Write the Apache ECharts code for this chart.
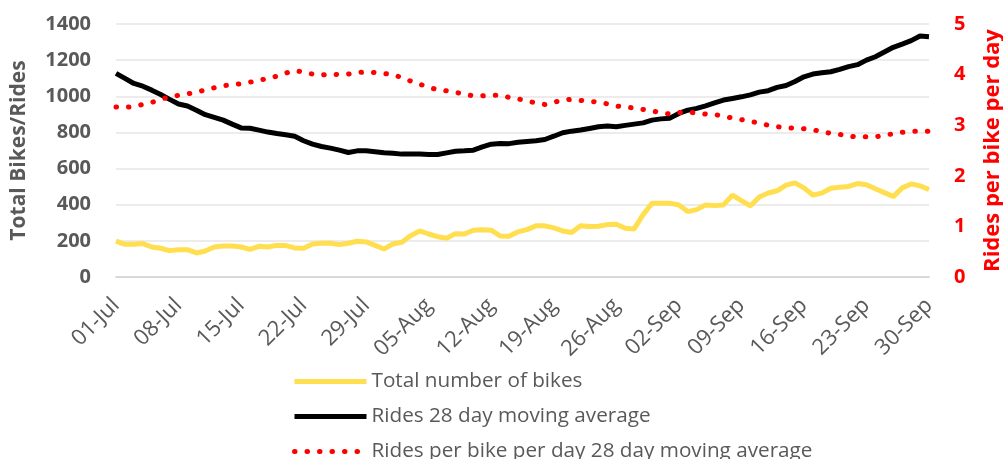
<!DOCTYPE html>
<html>
<head>
    <meta charset="utf-8"/>
    <title>Bikes and rides</title>
    <script src="https://cdn.jsdelivr.net/npm/echarts@6/dist/echarts.min.js"></script>
    <style>
        html, body { margin: 0; padding: 0; background: #fff; }
        #chart { width: 1003px; height: 459px; }
    </style>
</head>
<body>
<div id="chart"></div>
<script>
    // days 01-Jul .. 30-Sep
    var months = [['Jul', 31], ['Aug', 31], ['Sep', 30]];
    var dates = [];
    months.forEach(function (m) {
        for (var i = 1; i <= m[1]; i++) {
            dates.push((i < 10 ? '0' + i : '' + i) + '-' + m[0]);
        }
    });

    // total number of bikes
    var bikes = [199, 181, 181, 185, 166, 159, 146, 151, 151, 133,
        144, 166, 172, 172, 166, 153, 170, 166, 175, 174,
        161, 159, 183, 187, 187, 179, 187, 198, 194, 175,
        155, 183, 192, 229, 255, 238, 223, 214, 240, 238,
        259, 262, 259, 227, 225, 250, 262, 283, 283, 272,
        255, 246, 283, 279, 281, 290, 292, 270, 266, 345,
        408, 408, 408, 399, 362, 373, 399, 395, 399, 453,
        423, 393, 443, 465, 477, 508, 521, 493, 454, 464,
        491, 497, 501, 517, 510, 488, 467, 445, 493, 515,
        504, 484];

    // rides, 28 day moving average
    var rides = [1127, 1099, 1071, 1056, 1034, 1010, 983, 957, 946, 923,
        898, 883, 868, 846, 825, 823, 813, 802, 794, 787,
        779, 754, 735, 722, 713, 702, 689, 698, 698, 693,
        687, 685, 680, 680, 680, 678, 678, 687, 696, 698,
        702, 720, 735, 739, 738, 746, 750, 754, 761, 779,
        798, 807, 813, 822, 831, 835, 831, 839, 846, 853,
        868, 875, 879, 905, 923, 933, 947, 964, 979, 988,
        997, 1008, 1023, 1031, 1049, 1060, 1082, 1108, 1123, 1130,
        1136, 1149, 1164, 1175, 1200, 1219, 1245, 1271, 1289, 1308,
        1334, 1330];

    // rides per bike per day, 28 day moving average
    var ridesPerBike = [3.36, 3.35, 3.37, 3.41, 3.45, 3.51, 3.56, 3.59, 3.62, 3.65,
        3.70, 3.74, 3.78, 3.80, 3.82, 3.85, 3.89, 3.92, 3.97, 4.03,
        4.08, 4.05, 4.01, 3.99, 4.01, 4.00, 4.01, 4.04, 4.05, 4.04,
        4.02, 4.00, 3.94, 3.87, 3.81, 3.75, 3.70, 3.68, 3.65, 3.61,
        3.58, 3.58, 3.59, 3.59, 3.55, 3.52, 3.48, 3.44, 3.41, 3.45,
        3.50, 3.51, 3.49, 3.47, 3.46, 3.42, 3.38, 3.36, 3.34, 3.31,
        3.28, 3.25, 3.22, 3.25, 3.26, 3.24, 3.22, 3.21, 3.18, 3.14,
        3.11, 3.08, 3.04, 3.00, 2.97, 2.95, 2.94, 2.93, 2.91, 2.87,
        2.84, 2.82, 2.78, 2.77, 2.77, 2.77, 2.80, 2.83, 2.86, 2.88,
        2.88, 2.88];

    var names = ['Total number of bikes', 'Rides 28 day moving average',
        'Rides per bike per day 28 day moving average'];

    var font = '"Open Sans", sans-serif';
    var grey = '#595959';

    // one legend per row so the rows sit where the original has them
    function legendRow(name, top) {
        return {
            data: [name],
            left: 292,
            top: top,
            padding: 0,
            itemWidth: 72,
            itemHeight: 14,
            itemStyle: { opacity: 0 },
            lineStyle: { width: 5 },
            textStyle: {
                fontFamily: font,
                fontSize: 20.7,
                color: grey
            }
        };
    }

    var myChart = echarts.init(document.getElementById('chart'));
    var option = {
        animation: false,
        grid: {
            left: 116,
            right: 74,
            top: 24,
            bottom: 182,
            outerBoundsMode: 'none'
        },
        legend: [
            legendRow(names[0], 371),
            legendRow(names[1], 406),
            legendRow(names[2], 441)
        ],
        xAxis: {
            type: 'category',
            boundaryGap: false,
            data: dates,
            axisLine: { show: true, lineStyle: { color: '#d9d9d9', width: 2 } },
            axisTick: { show: false },
            axisLabel: {
                interval: 6,
                rotate: 45,
                margin: 25,
                fontFamily: font,
                fontSize: 22,
                color: grey
            }
        },
        yAxis: [{
            type: 'value',
            min: 0,
            max: 1400,
            interval: 200,
            name: 'Total Bikes/Rides',
            nameLocation: 'middle',
            nameGap: 86,
            nameTextStyle: {
                fontFamily: font,
                fontSize: 21,
                fontWeight: 'bold',
                color: grey
            },
            axisLabel: {
                margin: 25,
                fontFamily: font,
                fontSize: 20,
                fontWeight: 'bold',
                color: grey,
                formatter: function (v) { return String(v); }
            },
            splitLine: { lineStyle: { color: '#ececec', width: 2 } }
        }, {
            type: 'value',
            min: 0,
            max: 5,
            interval: 1,
            position: 'right',
            name: 'Rides per bike per day',
            nameLocation: 'middle',
            nameGap: 53,
            nameTextStyle: {
                fontFamily: font,
                fontSize: 22,
                fontWeight: 'bold',
                color: '#ff0000'
            },
            axisLabel: {
                margin: 25,
                fontFamily: font,
                fontSize: 20,
                fontWeight: 'bold',
                color: '#ff0000'
            },
            splitLine: { show: false }
        }],
        series: [{
            name: names[0],
            type: 'line',
            data: bikes,
            showSymbol: false,
            symbol: 'none',
            color: '#ffdf4f',
            lineStyle: { width: 5, color: '#ffdf4f' }
        }, {
            name: names[1],
            type: 'line',
            data: rides,
            showSymbol: false,
            symbol: 'none',
            color: '#000',
            lineStyle: { width: 5, color: '#000' }
        }, {
            name: names[2],
            type: 'line',
            yAxisIndex: 1,
            data: ridesPerBike,
            showSymbol: false,
            symbol: 'none',
            color: '#ff0000',
            lineStyle: {
                width: 5,
                color: '#ff0000',
                type: [0.5, 12],
                cap: 'round'
            }
        }]
    };
    myChart.setOption(option);
</script>
</body>
</html>
